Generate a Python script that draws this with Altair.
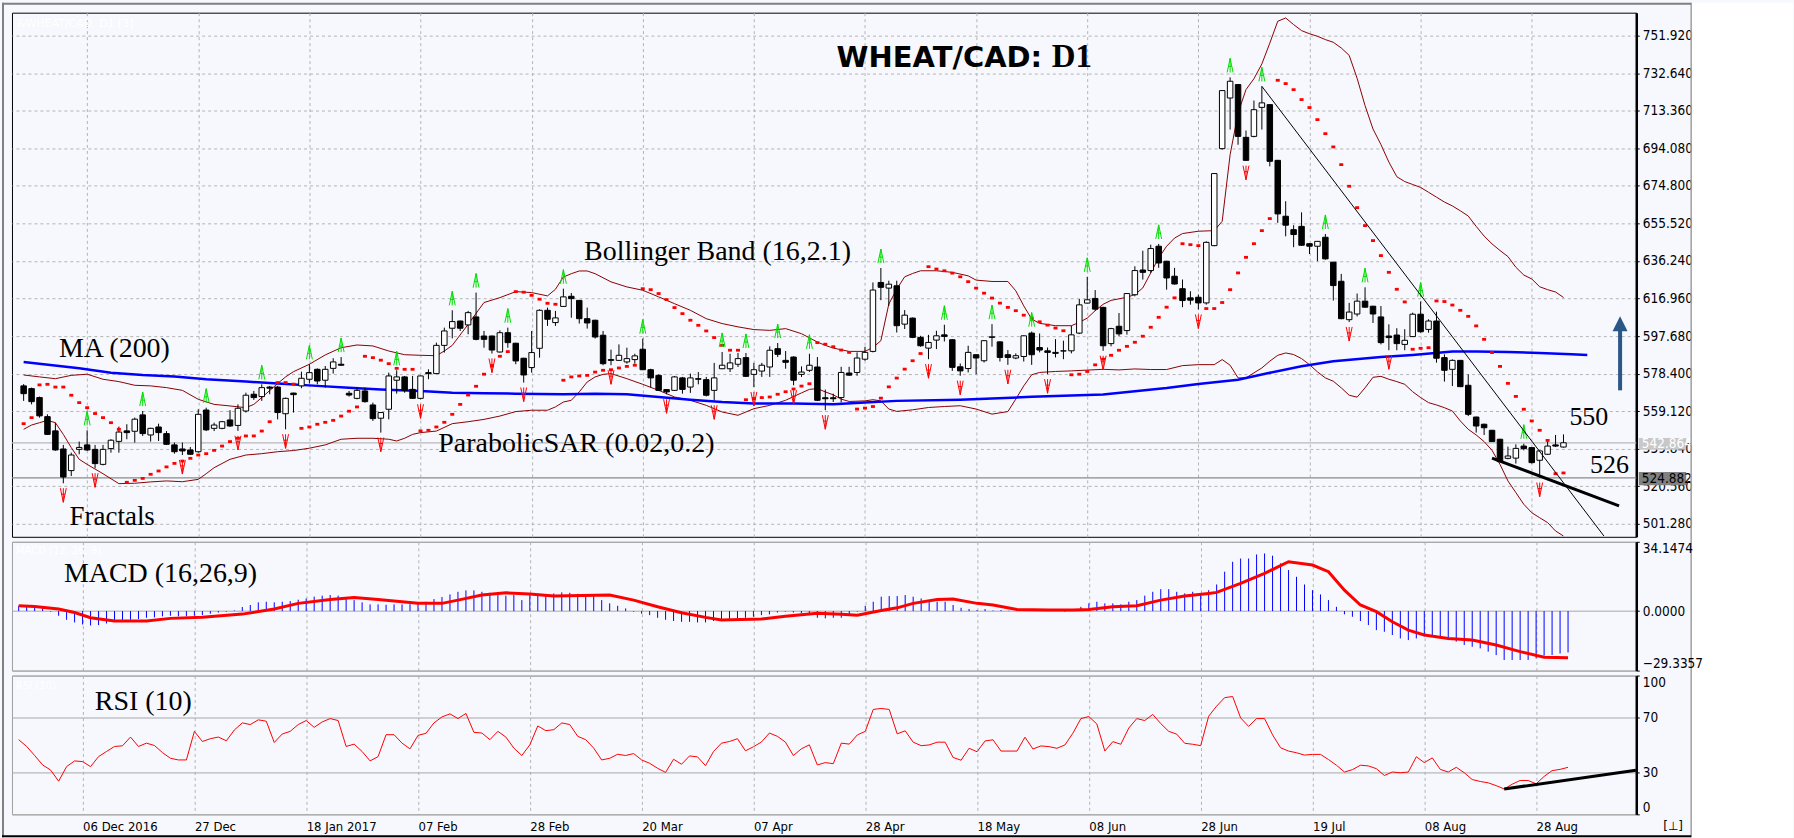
import altair as alt
import pandas as pd

# ---------------- values ----------------
open_p = [572.1, 570.7, 566.1, 556.3, 549.0, 539.7, 528.6, 539.5, 541.8, 539.5,
          531.8, 539.9, 543.6, 549.0, 548.8, 557.2, 546.9, 551.0, 547.6, 541.8,
          539.7, 539.2, 538.3, 559.7, 550.3, 550.3, 554.6, 551.8, 559.2, 567.8,
          566.6, 571.5, 571.5, 557.8, 568.4, 572.1, 575.5, 580.6, 575.0, 581.1,
          583.2, 568.3, 565.7, 569.5, 562.3, 555.5, 560.1, 575.0, 576.7, 570.3,
          565.7, 578.9, 578.4, 592.9, 601.7, 605.4, 603.4, 607.5, 597.7, 597.7,
          589.5, 599.4, 594.0, 586.3, 581.5, 591.4, 610.9, 604.6, 612.9, 618.1,
          616.0, 606.6, 605.8, 598.1, 585.6, 585.2, 584.4, 585.6, 590.9, 580.4,
          577.5, 570.2, 569.8, 576.2, 571.5, 575.8, 575.3, 569.8, 580.9, 580.9,
          583.2, 586.6, 578.0, 579.7, 581.8, 591.2, 585.2, 586.9, 578.0, 580.1,
          581.8, 566.0, 566.0, 566.1, 578.7, 579.0, 585.8, 589.8, 625.2, 622.3,
          623.5, 603.8, 606.9, 597.0, 591.5, 595.6, 598.3, 595.8, 581.9, 581.0,
          588.1, 585.0, 597.0, 594.7, 588.1, 586.4, 587.2, 599.2, 591.8, 590.1,
          589.3, 590.0, 590.1, 599.2, 614.6, 617.0, 612.4, 593.8, 602.7, 600.5,
          618.9, 631.6, 631.3, 643.8, 636.1, 628.4, 622.0, 617.3, 617.6, 614.7,
          644.1, 693.9, 719.9, 726.8, 699.7, 700.2, 715.1, 716.5, 687.9, 659.2,
          652.3, 654.0, 645.1, 643.8, 648.4, 635.6, 625.8, 606.1, 609.0, 615.6,
          613.0, 607.5, 597.7, 598.2, 593.4, 597.4, 608.9, 601.1, 605.4, 586.6,
          580.6, 585.2, 572.4, 556.1, 552.4, 549.3, 544.7, 534.9, 535.0, 541.2,
          540.4, 533.9, 537.0, 541.8, 540.7]
high_p = [573.0, 571.2, 566.6, 557.5, 553.2, 541.8, 537.8, 543.5, 549.3, 541.8,
          541.8, 544.7, 551.2, 552.4, 555.8, 559.2, 550.6, 552.7, 548.9, 543.0,
          543.0, 540.7, 560.1, 560.9, 553.2, 554.1, 559.6, 562.6, 568.6, 569.5,
          572.9, 572.1, 572.1, 566.1, 568.6, 579.4, 583.2, 581.1, 582.3, 586.3,
          586.9, 569.5, 571.2, 571.2, 563.5, 558.6, 578.9, 580.1, 577.2, 577.2,
          577.4, 580.6, 594.3, 602.0, 610.9, 605.6, 610.6, 620.0, 600.3, 597.9,
          600.6, 602.0, 594.2, 586.5, 600.3, 611.4, 612.3, 610.6, 622.0, 619.8,
          616.2, 612.3, 606.1, 600.3, 590.7, 593.4, 591.7, 588.6, 596.4, 580.9,
          578.0, 570.4, 577.2, 576.7, 578.4, 579.2, 576.7, 583.9, 589.5, 588.6,
          589.0, 589.0, 583.9, 583.9, 592.4, 594.1, 590.0, 587.3, 582.1, 588.6,
          586.9, 570.2, 568.1, 581.9, 581.9, 589.3, 592.2, 625.2, 632.6, 626.1,
          626.1, 611.0, 607.2, 597.8, 598.3, 600.4, 603.5, 596.0, 583.6, 592.7,
          588.3, 595.6, 603.8, 594.9, 590.5, 588.8, 598.0, 600.0, 599.0, 591.8,
          596.1, 595.3, 602.9, 616.7, 628.1, 621.3, 612.7, 601.9, 609.5, 619.7,
          633.5, 641.5, 644.6, 645.0, 636.3, 632.7, 626.7, 620.7, 619.0, 646.3,
          681.3, 723.9, 730.5, 727.0, 703.2, 718.6, 725.9, 716.7, 688.1, 666.9,
          654.6, 661.2, 645.3, 646.5, 650.1, 635.8, 629.6, 614.7, 619.5, 622.7,
          613.2, 613.1, 603.7, 601.7, 601.2, 609.7, 615.4, 606.3, 610.2, 588.3,
          585.7, 585.4, 578.0, 556.3, 552.7, 549.5, 544.9, 540.9, 542.1, 542.4,
          540.6, 538.9, 543.8, 546.9, 547.2]
low_p = [564.4, 562.6, 555.8, 546.9, 538.8, 522.1, 525.8, 537.0, 538.7, 529.8,
         531.3, 537.8, 537.8, 544.7, 543.0, 546.4, 543.5, 543.8, 541.8, 537.3,
         536.6, 536.6, 537.8, 548.9, 548.9, 549.8, 551.0, 549.0, 558.4, 564.9,
         564.4, 567.8, 554.9, 549.8, 558.4, 570.9, 573.3, 572.9, 571.2, 578.4,
         582.4, 566.6, 565.2, 563.5, 554.1, 548.1, 554.9, 568.1, 568.6, 565.5,
         565.2, 575.5, 578.2, 589.2, 596.5, 600.3, 598.6, 595.5, 591.7, 588.7,
         589.2, 591.7, 583.2, 573.8, 578.9, 586.6, 602.9, 602.9, 612.6, 607.1,
         604.1, 601.5, 596.4, 582.7, 582.7, 584.9, 583.5, 583.5, 580.2, 571.2,
         569.5, 567.8, 569.5, 568.1, 568.5, 572.9, 566.7, 564.7, 580.7, 579.2,
         581.8, 576.7, 571.5, 576.7, 576.7, 586.9, 580.9, 572.4, 576.7, 579.2,
         564.3, 559.6, 563.8, 563.6, 577.3, 577.3, 585.0, 589.3, 616.1, 613.2,
         599.5, 601.3, 596.6, 592.2, 585.8, 591.0, 594.9, 579.8, 577.3, 579.0,
         578.1, 584.1, 592.2, 584.6, 582.9, 585.8, 584.6, 582.9, 589.3, 578.1,
         586.7, 585.8, 588.8, 598.7, 614.4, 610.7, 590.1, 592.4, 597.6, 598.4,
         618.1, 626.7, 630.1, 632.7, 621.5, 624.1, 612.5, 613.8, 611.3, 613.8,
         643.8, 693.4, 703.7, 695.9, 687.7, 699.7, 703.7, 684.8, 655.8, 648.9,
         643.3, 644.0, 639.8, 636.1, 636.9, 615.9, 606.3, 604.9, 607.8, 612.2,
         604.4, 593.4, 590.4, 590.4, 590.4, 597.2, 599.4, 599.4, 584.0, 574.3,
         572.0, 571.5, 556.6, 548.1, 546.9, 543.3, 533.0, 534.4, 532.2, 539.0,
         532.2, 525.0, 536.6, 540.7, 540.4]
close_p = [568.1, 564.0, 556.7, 547.2, 539.2, 525.3, 536.6, 540.5, 539.2, 532.2,
           539.5, 544.2, 548.4, 548.1, 555.0, 547.6, 550.3, 548.1, 542.1, 538.3,
           538.7, 537.0, 557.5, 549.5, 552.0, 553.7, 551.5, 560.6, 567.3, 566.1,
           571.2, 570.9, 558.4, 565.7, 567.6, 576.0, 578.9, 574.6, 580.6, 584.4,
           582.7, 567.4, 569.8, 564.0, 555.3, 558.4, 577.2, 576.7, 569.8, 565.7,
           577.2, 578.4, 592.9, 600.3, 605.1, 601.7, 609.7, 596.0, 596.0, 590.5,
           599.4, 594.3, 584.9, 577.7, 589.2, 610.9, 606.3, 607.0, 617.8, 616.9,
           606.6, 604.4, 597.2, 583.5, 585.2, 587.8, 586.1, 587.5, 580.4, 576.2,
           569.8, 569.0, 576.7, 570.3, 576.2, 575.5, 567.3, 576.2, 582.7, 583.9,
           586.1, 577.0, 580.4, 582.7, 590.4, 588.3, 584.2, 575.0, 579.2, 582.7,
           564.7, 565.5, 565.5, 579.0, 577.6, 586.4, 589.3, 621.3, 622.7, 624.3,
           603.0, 608.4, 597.0, 592.7, 594.4, 597.8, 597.5, 581.6, 579.8, 589.3,
           586.4, 595.3, 597.3, 586.7, 586.7, 587.6, 597.8, 588.1, 590.5, 589.3,
           588.8, 590.1, 598.3, 613.7, 616.3, 611.5, 592.7, 601.5, 598.8, 619.5,
           631.3, 630.4, 642.6, 635.2, 627.5, 624.4, 615.9, 616.1, 614.7, 645.8,
           681.1, 723.7, 728.5, 700.2, 687.9, 713.9, 717.4, 687.4, 660.4, 654.6,
           649.8, 644.3, 643.8, 646.3, 637.3, 623.6, 606.6, 610.0, 615.6, 612.5,
           609.0, 594.3, 596.9, 593.8, 595.5, 608.9, 599.9, 605.4, 586.3, 580.1,
           585.2, 571.7, 557.5, 551.5, 550.6, 543.5, 533.2, 536.1, 540.0, 539.9,
           532.7, 538.7, 541.2, 541.2, 542.9]
sar_p = [552.7, 555.8, 572.6, 572.9, 571.5, 571.5, 567.3, 563.5, 560.9, 557.9,
         555.8, 553.2, 549.8, 522.6, 523.6, 524.6, 526.7, 528.4, 530.5, 532.3,
         533.5, 534.9, 536.6, 537.3, 539.0, 541.2, 543.5, 545.2, 546.4, 546.4,
         548.9, 553.7, 573.8, 573.8, 573.0, 550.3, 551.0, 552.4, 553.4, 554.4,
         556.6, 559.1, 561.3, 587.3, 586.6, 585.3, 583.5, 581.1, 580.6, 580.6,
         549.0, 549.3, 551.0, 553.4, 557.5, 562.6, 567.4, 571.9, 578.1, 582.3,
         587.3, 589.7, 620.5, 620.2, 618.6, 616.6, 614.5, 614.0, 575.0, 576.7,
         577.2, 577.5, 579.2, 580.1, 580.4, 581.3, 582.1, 582.7, 622.0, 621.5,
         619.5, 616.4, 612.3, 609.2, 605.8, 603.2, 600.3, 596.9, 592.9, 590.4,
         590.4, 565.0, 565.5, 566.1, 566.4, 567.8, 569.1, 570.5, 572.0, 573.2,
         594.3, 593.5, 592.2, 590.5, 589.3, 560.2, 560.7, 561.5, 565.8, 571.6,
         576.1, 580.7, 585.0, 588.7, 633.3, 632.1, 631.2, 630.0, 628.1, 625.6,
         622.3, 619.7, 617.2, 614.6, 612.4, 610.7, 608.4, 606.9, 605.0, 603.3,
         601.8, 600.4, 577.8, 578.1, 579.5, 582.9, 585.8, 587.8, 590.4, 592.4,
         594.5, 597.6, 602.2, 607.3, 612.5, 617.3, 645.1, 644.6, 644.1, 611.8,
         611.8, 614.9, 621.5, 630.1, 638.1, 645.1, 651.8, 658.0, 729.0, 727.3,
         724.2, 719.1, 715.0, 708.8, 701.6, 694.8, 685.7, 674.6, 663.6, 654.4,
         646.7, 639.0, 630.4, 621.7, 615.2, 590.9, 591.4, 591.7, 615.7, 615.4,
         613.6, 610.9, 607.8, 602.9, 596.0, 589.2, 582.1, 573.4, 566.7, 560.1,
         554.1, 549.3, 544.1, 527.0, 527.4]
macd_hist = [2.6, 2.6, 2.3, 1.8, -0.3, -2.3, -4.3, -5.6, -6.6, -7.1,
             -6.9, -6.1, -4.9, -4.6, -4.3, -3.9, -3.3, -3.1, -2.6, -2.3,
             -2.6, -2.6, -2.3, -2.0, -1.3, -0.7, -0.3, 0.3, 2.0, 3.0,
             4.3, 4.6, 4.3, 4.6, 4.9, 5.6, 6.2, 7.1, 7.6, 7.9,
             7.6, 6.7, 5.4, 4.3, 3.3, 3.3, 3.1, 3.3, 3.3, 3.4,
             3.9, 4.6, 5.9, 6.9, 8.2, 9.5, 10.2, 10.2, 9.5, 9.0,
             7.9, 7.6, 7.9, 5.4, 7.9, 7.6, 7.9, 8.7, 9.2, 9.0,
             8.5, 8.2, 7.9, 5.4, 3.8, 2.6, 1.3, -0.3, -1.3, -2.0,
             -3.3, -4.3, -4.9, -5.3, -5.3, -5.6, -5.6, -4.9, -4.4, -3.9,
             -3.6, -3.3, -2.8, -2.0, -1.6, -0.7, -0.3, -0.7, -1.1, -2.0,
             -3.3, -3.6, -3.3, -3.3, -2.3, -0.3, 2.6, 4.6, 7.1, 7.4,
             7.4, 7.9, 7.1, 6.2, 5.4, 4.6, 4.6, 3.0, 1.6, 1.0,
             0.5, 1.0, 0.3, 0.5, 0.2, 0.1, 0.1, 0.0, 0.1, 0.0,
             0.0, -0.3, 0.5, 2.1, 3.8, 4.6, 3.8, 3.8, 3.3, 4.6,
             5.4, 7.6, 9.5, 10.8, 10.8, 9.5, 8.7, 9.5, 8.7, 10.3,
             13.1, 19.4, 24.3, 25.9, 25.9, 27.9, 28.4, 27.3, 23.5, 20.2,
             16.9, 13.1, 10.3, 8.2, 5.4, 2.1, -1.6, -2.8, -4.9, -6.9,
             -9.4, -10.2, -11.8, -13.5, -14.3, -13.5, -12.6, -12.6, -13.5, -14.3,
             -15.1, -16.7, -17.6, -18.4, -20.0, -21.7, -24.1, -24.1, -24.1, -24.1,
             -23.3, -22.0, -21.7, -20.9, -20.4]
rsi_val = [53.8, 48.9, 42.4, 35.6, 31.9, 23.9, 34.4, 38.5, 38.0, 34.4,
           41.6, 45.3, 48.9, 49.4, 55.7, 48.9, 51.3, 49.6, 44.5, 40.4,
           39.2, 39.2, 59.8, 52.5, 54.5, 55.7, 53.0, 60.8, 65.9, 64.7,
           68.1, 67.1, 51.8, 57.9, 59.8, 64.7, 67.6, 62.7, 66.6, 69.0,
           67.6, 48.9, 50.6, 45.3, 38.5, 41.6, 57.4, 57.4, 51.3, 47.2,
           56.9, 58.4, 65.9, 70.2, 72.4, 69.0, 72.7, 59.1, 58.6, 53.8,
           59.8, 55.7, 47.7, 42.4, 50.1, 63.7, 60.3, 61.0, 65.9, 64.7,
           56.2, 53.8, 47.7, 39.2, 40.4, 43.3, 42.4, 43.8, 39.2, 36.8,
           33.2, 30.2, 39.7, 36.1, 42.1, 41.4, 35.1, 45.3, 51.3, 52.5,
           54.5, 45.8, 48.7, 52.1, 58.6, 56.2, 52.1, 42.4, 47.2, 50.1,
           35.6, 37.3, 36.5, 51.3, 50.6, 57.2, 59.8, 75.6, 76.3, 75.6,
           58.0, 60.2, 52.0, 49.5, 50.0, 52.0, 52.0, 41.0, 39.0, 47.6,
           45.1, 52.9, 53.7, 45.6, 45.6, 45.6, 55.6, 47.1, 49.3, 48.8,
           47.6, 50.0, 58.5, 69.0, 70.5, 65.1, 45.6, 52.4, 50.5, 62.2,
           69.0, 67.6, 72.0, 65.4, 59.8, 57.8, 51.2, 50.5, 49.5, 70.7,
           78.0, 84.1, 84.9, 69.5, 63.4, 69.0, 69.0, 57.3, 48.0, 45.6,
           44.4, 42.7, 43.2, 43.2, 39.5, 35.4, 30.5, 32.2, 35.4, 34.9,
           32.9, 28.0, 30.5, 30.0, 30.5, 41.5, 37.3, 40.7, 32.4, 30.5,
           33.9, 30.0, 25.1, 23.7, 22.7, 20.7, 18.3, 21.7, 24.4, 24.4,
           22.0, 27.3, 31.5, 32.4, 33.9]

bb_upper = [(0, 577.7), (2, 576.7), (4, 575.8), (6, 577.5), (8, 578.1), (10, 575.5), (12, 574.3), (14, 572.4),
            (16, 572.1), (18, 571.2), (20, 569.8), (22, 565.2), (24, 562.6), (26, 561.8), (28, 560.9), (29, 562.6),
            (30, 566.1), (32, 573.3), (33, 576.7), (34, 579.4), (36, 583.2), (38, 588.0), (40, 591.7), (42, 593.1),
            (44, 592.6), (46, 590.0), (48, 588.1), (50, 587.8), (52, 587.6), (53, 590.0), (54, 592.9), (56, 603.7),
            (58, 614.9), (60, 617.4), (62, 620.5), (64, 620.0), (66, 618.3), (67, 621.7), (68, 628.0), (69, 629.7),
            (70, 631.1), (71, 631.1), (72, 629.7), (74, 625.5), (76, 622.9), (78, 621.2), (80, 617.8), (82, 614.3),
            (84, 610.9), (86, 606.6), (88, 604.1), (90, 602.4), (92, 601.0), (94, 600.6), (96, 601.5), (98, 598.9),
            (100, 594.6), (101, 592.9), (102, 591.5), (104, 589.8), (106, 589.8), (107, 591.8), (108, 595.3),
            (109, 614.1), (110, 621.8), (111, 628.1), (112, 629.8), (113, 631.2), (115, 631.2), (117, 630.4),
            (119, 628.6), (120, 626.4), (122, 625.7), (124, 625.7), (125, 620.9), (126, 613.2), (127, 606.4),
            (128, 604.2), (130, 603.0), (132, 603.0), (133, 604.7), (134, 606.9), (135, 610.7), (136, 614.0),
            (137, 616.0), (139, 617.6), (140, 619.0), (141, 622.4), (142, 630.1), (143, 637.8), (144, 643.8),
            (145, 648.0), (146, 650.3), (148, 651.5), (150, 651.8), (151, 656.6), (152, 690.8), (153, 712.2),
            (154, 724.2), (155, 729.8), (156, 737.4), (157, 748.1), (158, 759.3), (159, 761.0), (160, 757.6),
            (161, 754.5), (162, 752.9), (163, 751.6), (164, 749.9), (165, 748.5), (166, 745.6), (167, 741.8),
            (168, 730.0), (169, 716.0), (170, 704.0), (171, 696.0), (172, 687.0), (173, 679.5), (174, 677.0),
            (175, 675.5), (176, 674.0), (177, 671.5), (178, 669.0), (179, 666.5), (180, 664.5), (181, 662.0),
            (182, 659.3), (183, 654.0), (184, 649.0), (185, 645.0), (186, 641.6), (187, 638.5), (188, 633.0),
            (189, 629.0), (190, 627.0), (191, 623.0), (192, 621.5), (193, 620.3), (194, 617.5)]
bb_lower = [(0, 549.8), (1, 552.0), (2, 553.2), (3, 554.4), (4, 553.2), (5, 547.2), (6, 540.4), (7, 534.4),
            (8, 531.8), (10, 527.0), (12, 521.9), (14, 522.1), (16, 522.8), (18, 523.3), (20, 522.9), (22, 524.1),
            (23, 527.0), (24, 530.1), (26, 534.4), (28, 536.6), (30, 537.3), (32, 538.3), (34, 538.9), (36, 540.1),
            (38, 541.8), (40, 544.7), (42, 545.2), (44, 545.2), (46, 544.7), (47, 543.8), (48, 545.2), (49, 547.2),
            (50, 548.1), (52, 548.9), (54, 552.7), (56, 553.7), (58, 554.9), (60, 556.6), (62, 558.9), (64, 559.6),
            (66, 559.6), (67, 561.3), (68, 563.8), (69, 564.7), (70, 569.0), (71, 574.1), (72, 576.7), (73, 578.0),
            (74, 578.4), (76, 575.8), (78, 572.9), (80, 569.8), (82, 566.4), (84, 564.7), (86, 562.1), (88, 558.7),
            (90, 557.0), (92, 560.4), (94, 562.1), (96, 564.7), (98, 568.5), (99, 570.3), (100, 570.7), (101, 569.0),
            (102, 567.5), (103, 565.3), (104, 564.1), (106, 564.4), (107, 565.0), (108, 564.4), (109, 560.2),
            (110, 559.0), (112, 559.8), (114, 561.0), (116, 561.5), (118, 561.9), (120, 560.2), (122, 557.6),
            (124, 558.9), (125, 565.3), (126, 572.1), (127, 577.8), (128, 579.0), (130, 579.5), (132, 579.8),
            (134, 580.2), (136, 580.6), (138, 580.3), (140, 580.8), (142, 580.5), (144, 580.5), (146, 582.5),
            (148, 583.0), (150, 583.0), (151, 585.6), (152, 582.7), (153, 576.2), (154, 576.2), (155, 578.8),
            (156, 581.3), (157, 584.8), (158, 587.8), (159, 589.0), (160, 588.2), (161, 586.1), (162, 583.0),
            (163, 579.3), (164, 576.2), (165, 574.5), (166, 571.1), (167, 567.3), (168, 566.3), (169, 571.1),
            (170, 576.5), (171, 577.0), (172, 575.5), (173, 574.3), (174, 572.9), (175, 569.1), (176, 566.1),
            (177, 563.5), (178, 562.3), (179, 560.9), (180, 559.2), (181, 554.1), (182, 549.8), (183, 546.9),
            (184, 543.5), (185, 539.0), (186, 531.8), (187, 523.3), (188, 517.3), (189, 511.3), (190, 507.0),
            (191, 504.4), (192, 501.9), (193, 497.6), (194, 495.0)]
ma200 = [(0, 584.4), (7, 581.1), (11, 578.9), (15, 577.7), (19, 576.9), (23, 575.5), (28, 574.3), (32, 573.3),
         (37, 572.1), (41, 571.2), (45, 570.3), (50, 569.5), (54, 568.6), (58, 568.3), (62, 568.1), (68, 567.8),
         (72, 568.1), (76, 567.8), (80, 566.4), (84, 565.0), (88, 563.8), (92, 563.0), (97, 563.0), (102, 562.7),
         (106, 563.6), (110, 564.4), (118, 565.0), (122, 565.6), (127, 566.5), (131, 567.0), (136, 567.7),
         (140, 569.3), (144, 571.0), (148, 573.1), (153, 575.3), (157, 578.8), (161, 582.2), (165, 584.8),
         (171, 586.9), (175, 588.0), (180, 589.7), (183, 589.7), (187, 589.5), (191, 589.0), (195, 588.3),
         (197, 588.0)]
macd_signal = [(0, 2.6), (2, 2.3), (5, 1.0), (7, -0.7), (9, -3.3), (12, -4.9), (16, -4.9), (19, -3.6), (23, -3.1),
               (28, -1.5), (32, 1.0), (35, 3.8), (39, 5.7), (42, 6.7), (45, 5.7), (50, 3.8), (53, 3.8), (55, 5.4),
               (58, 7.9), (61, 9.0), (64, 8.4), (67, 7.4), (74, 7.9), (77, 5.4), (80, 2.1), (83, -0.8), (86, -3.1),
               (88, -4.4), (93, -3.9), (96, -2.5), (100, -1.1), (103, -1.6), (105, -2.0), (108, 0.3), (110, 1.6),
               (112, 3.8), (115, 5.7), (117, 5.9), (120, 3.8), (122, 3.0), (125, 0.8), (129, 0.5), (132, 0.5),
               (134, 0.8), (137, 2.1), (140, 2.6), (143, 5.4), (146, 7.4), (149, 8.7), (150, 9.2), (153, 13.6),
               (156, 18.6), (159, 24.3), (162, 22.7), (164, 19.4), (166, 10.3), (168, 3.0), (170, -0.3), (172, -5.3),
               (174, -9.4), (176, -11.8), (179, -13.5), (182, -14.3), (185, -16.7), (188, -20.0), (191, -22.8),
               (194, -23.0)]
fractal_up = [8, 15, 23, 30, 36, 40, 47, 54, 57, 61, 68, 78, 88, 91, 95, 99, 108, 116, 122, 127, 134,
              143, 152, 156, 164, 169, 176, 189]
fractal_down = [5, 9, 20, 27, 33, 45, 50, 59, 63, 74, 81, 87, 92, 97, 101, 114, 118, 124, 129, 136,
                148, 154, 167, 172, 191]
down_trend = [(156, 725.9), (199.1, 495.0)]
support_line = [(185, 535.0), (201, 510.5)]
rsi_trend = [(186, 18.3), (202.5, 31.7)]
date_idx = [8, 22, 36, 50, 64, 78, 92, 106, 120, 134, 148, 162, 176, 190]
date_lbl = ["06 Dec 2016", "27 Dec", "18 Jan 2017", "07 Feb", "28 Feb", "20 Mar", "07 Apr",
            "28 Apr", "18 May", "08 Jun", "28 Jun", "19 Jul", "08 Aug", "28 Aug"]
price_ticks = [501.28, 520.56, 539.84, 559.12, 578.40, 597.68, 616.96, 636.24, 655.52,
               674.80, 694.08, 713.36, 732.64, 751.92]
macd_ticks = [-29.3357, 0.0, 34.1474]
rsi_ticks = [0, 30, 70, 100]
last_price = 542.864
level_price = 524.882

# ---------------- tables ----------------
n = len(close_p)
cdf = pd.DataFrame({"i": list(range(n)), "o": open_p, "h": high_p, "l": low_p, "c": close_p,
                    "sar": sar_p, "hist": macd_hist, "rsi": rsi_val})
up_df = cdf[cdf["i"].isin(fractal_up)]
dn_df = cdf[cdf["i"].isin(fractal_down)]
bbu_df = pd.DataFrame(bb_upper, columns=["i", "v"])
bbl_df = pd.DataFrame(bb_lower, columns=["i", "v"])
ma_df = pd.DataFrame(ma200, columns=["i", "v"])
sig_df = pd.DataFrame(macd_signal, columns=["i", "v"])
dt_df = pd.DataFrame(down_trend, columns=["i", "v"])
sp_df = pd.DataFrame(support_line, columns=["i", "v"])
rt_df = pd.DataFrame(rsi_trend, columns=["i", "v"])
one = alt.Data(values=[{}])

# ---------------- styling ----------------
W, H_MAIN, H_MACD, H_RSI = 1627, 525, 129, 139
XDOM = [-0.84, 202.54]
BG = "#F6F8FD"
GRID = "#B4B4B4"
NARROW = "Liberation Sans Narrow, DejaVu Sans Condensed, Liberation Sans"
SERIF = "Liberation Serif"
GREEN = "#00DD00"

xscale = alt.Scale(domain=XDOM, nice=False, zero=False)
xaxis_hidden = alt.Axis(values=date_idx, grid=True, gridDash=[3, 3], gridColor=GRID, labels=False,
                        ticks=False, domain=False, title=None)
lbl_js = "[" + ",".join("'" + s + "'" for s in date_lbl) + "]"
xaxis_rsi = alt.Axis(values=date_idx, grid=True, gridDash=[3, 3], gridColor=GRID, ticks=False, domain=False,
                     title=None, labelExpr=lbl_js + "[round((datum.value-8)/14)]", labelAlign="left",
                     labelBaseline="top", labelPadding=6, labelFont=NARROW, labelFontSize=13,
                     labelColor="black", labelFlush=False, labelOverlap=False)

axis_common = dict(orient="right", title=None, labelFont=NARROW, labelFontSize=13.5, labelColor="black",
                   tickColor="black", tickSize=3, domainColor="black", domainWidth=2.5, labelPadding=3,
                   zindex=0, labelOverlap=False)
yaxis_main = alt.Axis(values=price_ticks, format=".3f", grid=True, gridDash=[3, 3], gridColor=GRID,
                      labelFlush=False, **axis_common)
yaxis_macd = alt.Axis(values=macd_ticks, format=".4f", grid=True, gridColor="#A8A8A8", labelFlush=True,
                      **axis_common)
yaxis_rsi = alt.Axis(values=rsi_ticks, format="d", grid=True, gridColor="#A8A8A8", labelFlush=True,
                     **axis_common)

ymain_scale = alt.Scale(domain=[494.61, 763.71], nice=False, zero=False)
ymacd_scale = alt.Scale(domain=[-29.3357, 34.1474], nice=False, zero=False)
yrsi_scale = alt.Scale(domain=[0, 100], nice=False, zero=False)


def XM(f="i", axis=xaxis_hidden):
    return alt.X(f, type="quantitative", scale=xscale, axis=axis)


def YM(f):
    return alt.Y(f, type="quantitative", scale=ymain_scale, axis=yaxis_main)


def YMA(f):
    return alt.Y(f, type="quantitative", scale=ymacd_scale, axis=yaxis_macd)


def YR(f):
    return alt.Y(f, type="quantitative", scale=yrsi_scale, axis=yaxis_rsi)


def label(text, x, y, size=28, font=SERIF, weight="normal", color="black", align="left", baseline="alphabetic"):
    return alt.Chart(one).mark_text(text=text, font=font, fontSize=size, fontWeight=weight, color=color,
                                    align=align, baseline=baseline).encode(x=alt.value(x), y=alt.value(y))


# fractal glyphs: "A"-like arrow with a centre stem (stroke only)
UP_PATH = "M-0.42,1L0,-1L0.42,1M0,-1L0,1M-0.24,0.15L0.24,0.15"
DN_PATH = "M-0.42,-1L0,1L0.42,-1M0,1L0,-1M-0.24,-0.15L0.24,-0.15"
SAR_PATH = "M-1,-0.7L1,-0.7L1,0.7L-1,0.7Z"
TRI_PATH = "M0,-1L1,1L-1,1Z"

# ---------------- main panel ----------------
grid_base = alt.Chart(cdf).mark_rule(opacity=0).encode(x=XM(), y=YM("c"))
level1 = alt.Chart(pd.DataFrame({"p": [last_price]})).mark_rule(color="#B8B8B8", strokeWidth=1.2).encode(y=YM("p"))
level2 = alt.Chart(pd.DataFrame({"p": [level_price]})).mark_rule(color="#8A8A8A", strokeWidth=1.2).encode(y=YM("p"))
bbu = alt.Chart(bbu_df).mark_line(color="#8B0000", strokeWidth=1, clip=True).encode(x=XM(), y=YM("v"))
bbl = alt.Chart(bbl_df).mark_line(color="#8B0000", strokeWidth=1, clip=True).encode(x=XM(), y=YM("v"))
ma = alt.Chart(ma_df).mark_line(color="#0000FF", strokeWidth=2.5).encode(x=XM(), y=YM("v"))
wicks = alt.Chart(cdf).mark_rule(color="black", strokeWidth=1).encode(x=XM(), y=YM("l"), y2="h")
bodies = alt.Chart(cdf).mark_bar(size=5.5, stroke="black", strokeWidth=1).encode(
    x=XM(), y=YM("o"), y2="c",
    fill=alt.condition("datum.c >= datum.o", alt.value("white"), alt.value("black")))
sar = alt.Chart(cdf).mark_point(shape=SAR_PATH, size=16, filled=True, color="#FF0000", opacity=1).encode(
    x=XM(), y=YM("sar"))
fr_up = alt.Chart(up_df).mark_point(shape=UP_PATH, size=200, filled=False, color=GREEN, strokeWidth=1,
                                    opacity=1, yOffset=-12).encode(x=XM(), y=YM("h"))
fr_dn = alt.Chart(dn_df).mark_point(shape=DN_PATH, size=200, filled=False, color="#FF0000", strokeWidth=1,
                                    opacity=1, yOffset=12).encode(x=XM(), y=YM("l"))
tr1 = alt.Chart(dt_df).mark_line(color="black", strokeWidth=1, clip=True).encode(x=XM(), y=YM("v"))
tr2 = alt.Chart(sp_df).mark_line(color="black", strokeWidth=3, clip=True).encode(x=XM(), y=YM("v"))

arrow_shaft = alt.Chart(one).mark_rule(color="#2B5686", strokeWidth=4).encode(
    x=alt.value(1610.8), y=alt.value(318), y2=alt.value(378.3))
arrow_head = alt.Chart(one).mark_point(shape=TRI_PATH, size=225, filled=True, color="#2B5686", opacity=1).encode(
    x=alt.value(1610.8), y=alt.value(311.5))

box1 = alt.Chart(one).mark_rect(color="#C8C8C8").encode(x=alt.value(1629.5), x2=alt.value(1677),
                                                        y=alt.value(426), y2=alt.value(437.7))
box2 = alt.Chart(one).mark_rect(color="#808080").encode(x=alt.value(1629.5), x2=alt.value(1677),
                                                        y=alt.value(460), y2=alt.value(473.3))
box1_t = label(f"{last_price:.3f}", 1632.5, 432, size=13.5, font=NARROW, color="white", baseline="middle")
box2_t = label(f"{level_price:.3f}", 1632.5, 467, size=13.5, font=NARROW, color="black", baseline="middle")

# window frame pieces (pixel styling)
white_strip = alt.Chart(one).mark_rect(color="white").encode(x=alt.value(1683), x2=alt.value(1784),
                                                             y=alt.value(-10), y2=alt.value(828))
frame_right = alt.Chart(one).mark_rule(color="#A0A0A0", strokeWidth=1.5).encode(
    x=alt.value(1682), y=alt.value(-10), y2=alt.value(826))
frame_top = alt.Chart(one).mark_rule(color="#808080", strokeWidth=2).encode(
    x=alt.value(-10), x2=alt.value(1682), y=alt.value(-9))
frame_left = alt.Chart(one).mark_rule(color="#808080", strokeWidth=2).encode(
    x=alt.value(-9), y=alt.value(-10), y2=alt.value(826))
frame_bottom = alt.Chart(one).mark_rule(color="black", strokeWidth=2).encode(
    x=alt.value(-10), x2=alt.value(1682), y=alt.value(825))

main = alt.layer(
    grid_base, level1, level2, bbu, bbl, ma, wicks, bodies, sar, fr_up, fr_dn, tr1, tr2,
    arrow_shaft, arrow_head, box1, box2, box1_t, box2_t,
    label("&WHEAT/CAD, D1 [3]", 5, 14, size=11, font="DejaVu Sans", color="white"),
    label("WHEAT/CAD:", 826, 54, size=29, font="DejaVu Sans", weight="bold"),
    label("D1", 1041.5, 54, size=33, font=SERIF, weight="bold"),
    label("Bollinger Band (16,2.1)", 573, 248),
    label("MA (200)", 47, 345),
    label("ParabolicSAR (0.02,0.2)", 427, 440),
    label("Fractals", 57.7, 513, size=27),
    label("550", 1560, 412.7, size=26),
    label("526", 1580.7, 460.7, size=26),
    white_strip, frame_right, frame_top, frame_left, frame_bottom,
).properties(width=W, height=H_MAIN, view=alt.ViewBackground(fill=BG, stroke="black", strokeWidth=1))

# ---------------- MACD panel ----------------
hist = alt.Chart(cdf).mark_rule(color="#0000FF", strokeWidth=1).encode(x=XM(), y=YMA("hist"), y2=alt.datum(0))
sig = alt.Chart(sig_df).mark_line(color="#FF0000", strokeWidth=3).encode(x=XM(), y=YMA("v"))
macd = alt.layer(
    hist, sig,
    label("MACD (12, 26, 9)", 4, 12, size=10, font="DejaVu Sans", color="white"),
    label("MACD (16,26,9)", 52, 40),
).properties(width=W, height=H_MACD, view=alt.ViewBackground(fill=BG, stroke="#A0A0A0", strokeWidth=1))

# ---------------- RSI panel ----------------
rsi_line = alt.Chart(cdf).mark_line(color="#FF0000", strokeWidth=1).encode(x=XM(axis=xaxis_rsi), y=YR("rsi"))
rsi_tr = alt.Chart(rt_df).mark_line(color="black", strokeWidth=3, clip=True).encode(x=XM(axis=xaxis_rsi), y=YR("v"))
rsi = alt.layer(
    rsi_line, rsi_tr,
    label("RSI (10)", 4, 13, size=10, font="DejaVu Sans", color="white"),
    label("RSI (10)", 83, 34.3),
    label("[\u22a5]", 1654, 151, size=12, font="DejaVu Sans", baseline="middle"),
).properties(width=W, height=H_RSI, view=alt.ViewBackground(fill=BG, stroke="#A0A0A0", strokeWidth=1))

chart = alt.vconcat(main, macd, rsi, spacing=5, bounds="flush").properties(
    padding=0, background=BG
)

chart.save("out.html", embed_options={"renderer": "svg", "actions": False})
